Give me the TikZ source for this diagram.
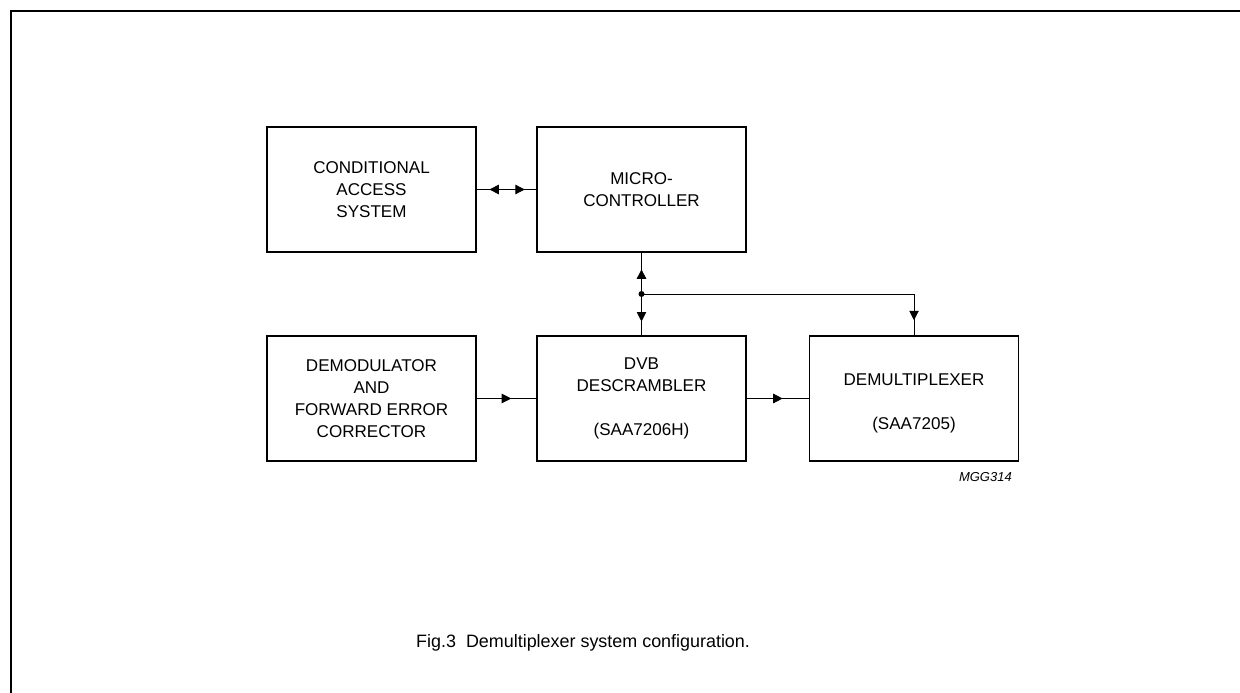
\documentclass[tikz,border=0pt]{standalone}
\usepackage{fontspec}
\setmainfont{Liberation Sans}
\usetikzlibrary{arrows.meta,decorations.markings}

\tikzset{
  block/.style={draw, line width=1.1pt, minimum width=4.18cm, minimum height=2.5cm,
    inner sep=0pt, align=center, font=\fontsize{9.7}{12.5}\selectfont},
  link/.style={line width=0.5pt},
  tip/.style={postaction={decorate, decoration={markings,
    mark=at position #1 with {\arrow{Triangle[length=5.4pt,width=5.4pt]}}}}},
  backtip/.style={postaction={decorate, decoration={markings,
    mark=at position #1 with {\arrowreversed{Triangle[length=5.4pt,width=5.4pt]}}}}},
}

\begin{document}
\begin{tikzpicture}
\useasboundingbox (0,0) rectangle (24.8,-13.86);
\draw[line width=1.1pt] (24.8,-0.22)--(0.22,-0.22)--(0.22,-13.86);

\node[block] (cas) at (7.43,-3.79) {CONDITIONAL\\ACCESS\\SYSTEM};
\node[block] (micro) at (12.83,-3.79) {MICRO-\\CONTROLLER};
\node[block] (demod) at (7.43,-7.97) {DEMODULATOR\\AND\\FORWARD ERROR\\CORRECTOR};
\node[block] (dvb) at (12.83,-7.97) {DVB\\DESCRAMBLER\\\mbox{}\\(SAA7206H)};
\node[block] (demux) at (18.28,-7.97) {\mbox{}\\DEMULTIPLEXER\\\mbox{}\\(SAA7205)};

\draw[link, backtip=0.21, tip=0.81] (cas) -- (micro);
\draw[link, tip=0.58] (demod) -- (dvb);
\draw[link, tip=0.58] (dvb) -- (demux);

\coordinate (bus) at (12.83,-5.88);
\coordinate (bend) at (bus -| demux);
\draw[link, tip=0.6] (bus) -- (micro);
\draw[link, tip=0.67] (bus) -- (dvb);
\draw[link] (bus) -- (bend);
\draw[link, tip=0.64] (bend) -- (demux);
\fill (bus) circle (0.06);

\node[anchor=east, font=\fontsize{7.4}{9}\selectfont\itshape] (code) at (20.36,-9.54) {MGG314};
\node[anchor=base west, font=\fontsize{10.2}{12}\selectfont] (caption) at (8.2,-12.94)
  {Fig.3\ \ Demultiplexer system configuration.};
\end{tikzpicture}
\end{document}
